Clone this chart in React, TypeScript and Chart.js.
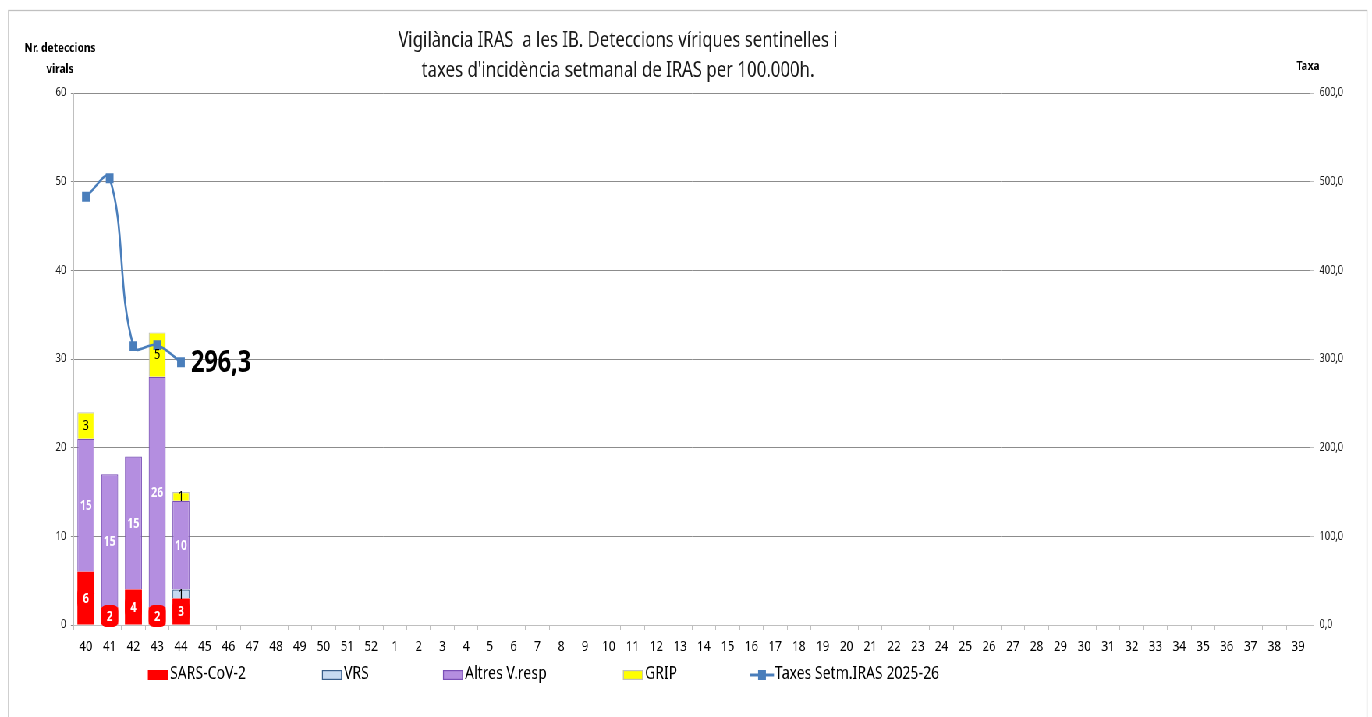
import { useEffect, useRef } from 'react';
import { Chart, registerables } from 'chart.js';

Chart.register(...registerables);

const weeks = ['40','41','42','43','44','45','46','47','48','49','50','51','52','1','2','3','4','5','6','7','8','9','10','11','12','13','14','15','16','17','18','19','20','21','22','23','24','25','26','27','28','29','30','31','32','33','34','35','36','37','38','39'];
const sarsCov2 = [6, 2, 4, 2, 3];
const vrs = [0, 0, 0, 0, 1];
const altresVResp = [15, 15, 15, 26, 10];
const grip = [3, 0, 0, 5, 1];
const taxesIRAS = [483.0, 503.8, 314.5, 315.6, 296.3];

const titleLines = ['Vigilància IRAS  a les IB. Deteccions víriques sentinelles i', "taxes d'incidència setmanal de IRAS per 100.000h."];
const leftTitle = ['Nr. deteccions', 'virals'];
const rightTitle = 'Taxa';
const lastLabel = '296,3';

const S = 0.78; // horizontal squeeze
const PW = 1372;
const PH = 717;
const W = Math.round(PW / S);
const H = PH;
const FONT = '"Noto Sans", "Open Sans", sans-serif';
const px = (x: number) => x / S;

const COLORS = {
  sars: '#ff0000',
  vrs: '#c6d9f1',
  vrsBorder: '#385d8a',
  altres: '#b48ee0',
  altresBorder: '#7a4fb6',
  grip: '#ffff00',
  gripBorder: '#bfbfbf',
  line: '#4a7ebb',
};

const decor = {
  id: 'decor',
  beforeDraw(chart: any) {
    const ctx = chart.ctx;
    ctx.save();
    ctx.fillStyle = '#ffffff';
    ctx.fillRect(0, 0, chart.width, chart.height);
    ctx.strokeStyle = '#c0c0c0';
    ctx.lineWidth = 1.3;
    ctx.strokeRect(px(8.5), 10.5, px(1367) - px(8.5), H + 20);
    ctx.restore();
  },
  afterDatasetsDraw(chart: any) {
    const ctx = chart.ctx;
    ctx.save();
    ctx.textAlign = 'center';
    ctx.textBaseline = 'middle';
    chart.data.datasets.forEach((ds: any, i: number) => {
      if (ds.type === 'line') return;
      const meta = chart.getDatasetMeta(i);
      const white = ds.label === 'SARS-CoV-2' || ds.label === 'Altres V.resp';
      const boxed = ds.label === 'SARS-CoV-2';
      meta.data.forEach((el: any, j: number) => {
        const v = ds.data[j];
        if (!v) return;
        const p = el.getProps(['x', 'y', 'base', 'width'], true);
        const cy = (p.y + p.base) / 2;
        const t = String(v);
        ctx.font = (white ? 'bold ' : '') + '13.5px ' + FONT;
        if (boxed) {
          const bw = p.width;
          const bh = 22;
          ctx.fillStyle = ds.backgroundColor;
          ctx.beginPath();
          ctx.roundRect(p.x - bw / 2, cy - bh / 2, bw, bh, 6);
          ctx.fill();
        }
        ctx.fillStyle = white ? '#ffffff' : '#000000';
        ctx.fillText(t, p.x, cy + 1);
      });
    });
    const li = chart.data.datasets.findIndex((d: any) => d.type === 'line');
    const lm = chart.getDatasetMeta(li);
    const lastIdx = taxesIRAS.length - 1;
    const pt = lm.data[lastIdx];
    if (pt) {
      ctx.font = 'bold 30px ' + FONT;
      ctx.textAlign = 'left';
      ctx.fillStyle = '#000000';
      ctx.fillText(lastLabel, pt.x + px(10), pt.y + 1);
    }
    ctx.restore();
  },
  afterDraw(chart: any) {
    const ctx = chart.ctx;
    ctx.save();
    ctx.fillStyle = '#1a1a1a';
    ctx.textAlign = 'center';
    ctx.textBaseline = 'middle';
    ctx.font = '21.5px ' + FONT;
    ctx.fillText(titleLines[0], px(618), 41);
    ctx.fillText(titleLines[1], px(618), 71);
    ctx.fillStyle = '#000000';
    ctx.font = 'bold 13px ' + FONT;
    ctx.fillText(leftTitle[0], px(60), 48);
    ctx.fillText(leftTitle[1], px(60), 69);
    ctx.fillText(rightTitle, px(1308), 66);

    // legend
    const ly = 674;
    ctx.font = '18px ' + FONT;
    ctx.textAlign = 'left';
    const items = [
      { x: 148, text: 'SARS-CoV-2', fill: COLORS.sars, stroke: COLORS.sars },
      { x: 322, text: 'VRS', fill: COLORS.vrs, stroke: COLORS.vrsBorder },
      { x: 443, text: 'Altres V.resp', fill: COLORS.altres, stroke: COLORS.altresBorder },
      { x: 623, text: 'GRIP', fill: COLORS.grip, stroke: COLORS.gripBorder },
    ];
    items.forEach((it) => {
      const sx = px(it.x);
      const sw = px(20);
      const sh = 10;
      const top = ly + 1 - sh / 2;
      ctx.fillStyle = it.fill;
      ctx.fillRect(sx, top, sw, sh);
      ctx.strokeStyle = it.stroke;
      ctx.lineWidth = 1.2;
      ctx.strokeRect(sx + 0.6, top + 0.6, sw - 1.2, sh - 1.2);
      ctx.fillStyle = '#000000';
      ctx.fillText(it.text, sx + sw + px(2), ly);
    });
    const lx0 = px(750);
    const lx1 = px(774);
    ctx.strokeStyle = COLORS.line;
    ctx.lineWidth = 3;
    ctx.beginPath();
    ctx.moveTo(lx0, ly + 1);
    ctx.lineTo(lx1, ly + 1);
    ctx.stroke();
    ctx.fillStyle = COLORS.line;
    const m = 10;
    ctx.fillRect((lx0 + lx1) / 2 - m / 2, ly + 1 - m / 2, m, m);
    ctx.fillStyle = '#000000';
    ctx.fillText('Taxes Setm.IRAS 2025-26', lx1 + px(1), ly);
    ctx.restore();
  },
};

export default function App() {
  const ref = useRef<HTMLCanvasElement | null>(null);
  useEffect(() => {
    if (!ref.current) return;
    const chart = new Chart(ref.current, {
      type: 'bar',
      data: {
        labels: weeks,
        datasets: [
          {
            type: 'line',
            label: 'Taxes Setm.IRAS 2025-26',
            data: taxesIRAS,
            yAxisID: 'y1',
            borderColor: COLORS.line,
            backgroundColor: COLORS.line,
            borderWidth: 2.6,
            tension: 0.4,
            pointStyle: 'rect',
            pointRadius: 7,
            pointBorderWidth: 0,
            pointBackgroundColor: COLORS.line,
            order: 0,
          } as any,
          {
            label: 'SARS-CoV-2',
            data: sarsCov2,
            backgroundColor: COLORS.sars,
            borderColor: COLORS.sars,
            borderWidth: 0,
            stack: 's',
            order: 1,
          },
          {
            label: 'VRS',
            data: vrs,
            backgroundColor: COLORS.vrs,
            borderColor: COLORS.vrsBorder,
            borderWidth: 1.2,
            stack: 's',
            order: 1,
          },
          {
            label: 'Altres V.resp',
            data: altresVResp,
            backgroundColor: COLORS.altres,
            borderColor: COLORS.altresBorder,
            borderWidth: 1.2,
            stack: 's',
            order: 1,
          },
          {
            label: 'GRIP',
            data: grip,
            backgroundColor: COLORS.grip,
            borderColor: COLORS.gripBorder,
            borderWidth: 1.2,
            stack: 's',
            order: 1,
          },
        ],
      },
      options: {
        responsive: false,
        animation: false,
        devicePixelRatio: 1,
        layout: { padding: { top: 93, left: 0, right: 0, bottom: 0 } },
        datasets: { bar: { barPercentage: 0.715, categoryPercentage: 1 } },
        plugins: {
          legend: { display: false },
          title: { display: false },
          tooltip: { enabled: false },
        },
        scales: {
          x: {
            stacked: true,
            grid: { offset: true, drawOnChartArea: false, color: '#bfbfbf', tickLength: 5 },
            border: { display: true, color: '#bfbfbf' },
            ticks: { color: '#000000', font: { family: FONT, size: 15 }, padding: 8, maxRotation: 0, autoSkip: false },
            afterFit: (s: any) => { s.height = PH - 625; },
          },
          y: {
            stacked: true,
            position: 'left',
            min: 0,
            max: 60,
            ticks: { stepSize: 10, color: '#1a1a1a', font: { family: FONT, size: 12 }, padding: 6 },
            grid: { color: '#8c8c8c', tickLength: 4 },
            border: { display: true, color: '#bfbfbf' },
            afterFit: (s: any) => { s.width = px(74); },
          },
          y1: {
            position: 'right',
            min: 0,
            max: 600,
            ticks: {
              stepSize: 100,
              color: '#1a1a1a',
              font: { family: FONT, size: 12 },
              padding: 7,
              callback: (v: any) => Number(v).toFixed(1).replace('.', ','),
            },
            grid: { drawOnChartArea: false, color: '#bfbfbf', tickLength: 5 },
            border: { display: true, color: '#bfbfbf' },
            afterFit: (s: any) => { s.width = px(PW - 1310); },
          },
        },
      },
      plugins: [decor],
    });
    return () => chart.destroy();
  }, []);
  return (
    <div
      style={{
        position: 'fixed',
        left: 0,
        top: 0,
        width: W,
        height: H,
        transform: `scaleX(${S})`,
        transformOrigin: '0 0',
        background: '#fff',
      }}
    >
      <canvas ref={ref} width={W} height={H} style={{ display: 'block', width: W, height: H }} />
    </div>
  );
}
